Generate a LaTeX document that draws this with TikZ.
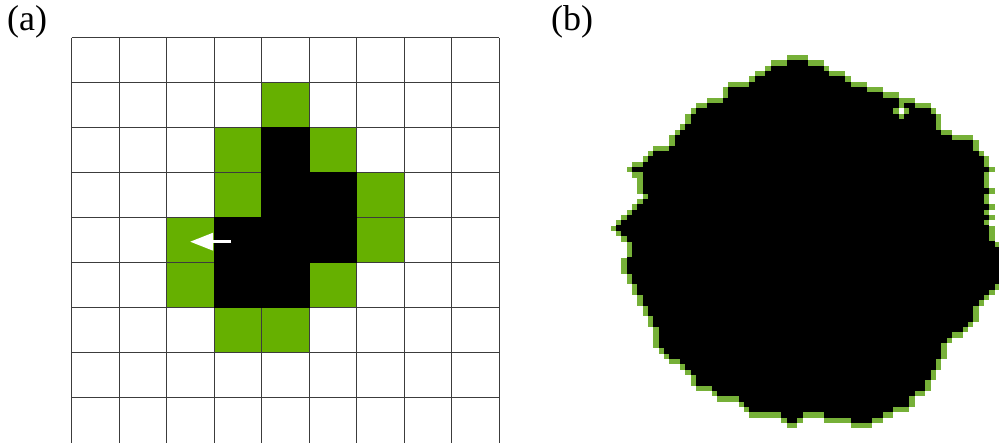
\documentclass[tikz,border=0pt]{standalone}
\usepackage{fontspec}
\setmainfont{Liberation Serif}
\usepackage{tikz}
\usetikzlibrary{arrows.meta}

\definecolor{growgreen}{RGB}{102,176,0}
\definecolor{rimgreen}{RGB}{118,176,56}
\definecolor{gridgray}{RGB}{60,60,60}

\newcommand\blobrows{1/35/38, 2/32/41, 3/31/42, 4/29/45, 5/28/46, 6/24/49, 7/24/52, 8/23/55,
    9/20/55, 9/57/58, 10/18/54, 10/58/61, 11/17/55, 11/57/62,
    12/17/62, 13/16/62, 14/15/63, 15/14/65, 16/14/69, 17/13/69, 18/10/70, 19/9/71,
    20/8/71, 21/6/72, 22/8/71, 23/8/71, 24/8/71, 25/8/72, 26/9/71, 27/8/71, 28/7/72,
    29/6/71, 30/5/72, 31/4/71, 32/3/72, 33/4/72, 34/5/72, 35/6/73, 36/6/74, 37/6/74,
    38/5/74, 39/5/74, 40/5/74, 41/6/74, 42/6/74, 43/7/73, 44/7/72, 45/8/71, 46/8/70,
    47/9/69, 48/9/69, 49/10/69, 50/10/68, 51/11/67, 52/11/65, 53/11/64, 54/11/63,
    55/12/63, 56/13/63, 57/15/62, 58/16/62, 59/17/61, 60/18/61, 61/18/60, 62/21/60,
    63/22/58, 64/26/57, 65/27/57, 66/28/54, 67/34/37, 67/42/52, 68/35/36, 68/47/50}

\begin{document}
\begin{tikzpicture}[
        x=1pt, y=-1pt,
        >={Triangle[length=23pt, width=17pt]},
        panel/.style={anchor=base west, inner sep=0pt, font=\fontsize{36}{40}\selectfont},
        active/.style={fill=growgreen},
        occupied/.style={fill=black},
        gridline/.style={draw=gridgray, line width=1.2pt},
        rim/.style={fill=rimgreen},
        core/.style={fill=black}
    ]
    \clip (0,0) rectangle (999,442);
    \node[panel] (pa) at (7,30) {(a)};
    \node[panel] (pb) at (551,30) {(b)};

    \begin{scope}[shift={(71.7,37.7)}, x=47.51pt, y=-45pt]
        \foreach \i/\j in {4/1, 3/2, 5/2, 3/3, 6/3, 2/4, 6/4, 2/5, 5/5, 3/6, 4/6}
            \fill[active] (\i,\j) rectangle ++(1,1);
        \foreach \i in {0,...,9}
            \draw[gridline] (\i,0) -- (\i,9);
        \foreach \j in {0,...,8}
            \draw[gridline] (0,\j) -- (9,\j);
        \foreach \i/\j in {4/2, 4/3, 5/3, 3/4, 4/4, 5/4, 3/5, 4/5}
            \fill[occupied] (\i-0.01,\j-0.01) rectangle ++(1.02,1.02);
    \end{scope}
    \coordinate (tail) at (231,241.7);
    \coordinate (tip) at (190,241.7);
    \draw[->, white, line width=3.3pt] (tail) -- (tip);

    \begin{scope}[shift={(600,55)}, x=5.333pt, y=-5.333pt]
        \foreach \r/\lo/\hi in \blobrows {
            \fill[rim] (\lo-1,\r) rectangle (\hi+2,\r+1);
            \fill[rim] (\lo,\r-1) rectangle (\hi+1,\r+2);
        }
        \foreach \r/\lo/\hi in \blobrows
            \fill[core] (\lo,\r-0.03) rectangle (\hi+1,\r+1.03);
    \end{scope}
\end{tikzpicture}
\end{document}
